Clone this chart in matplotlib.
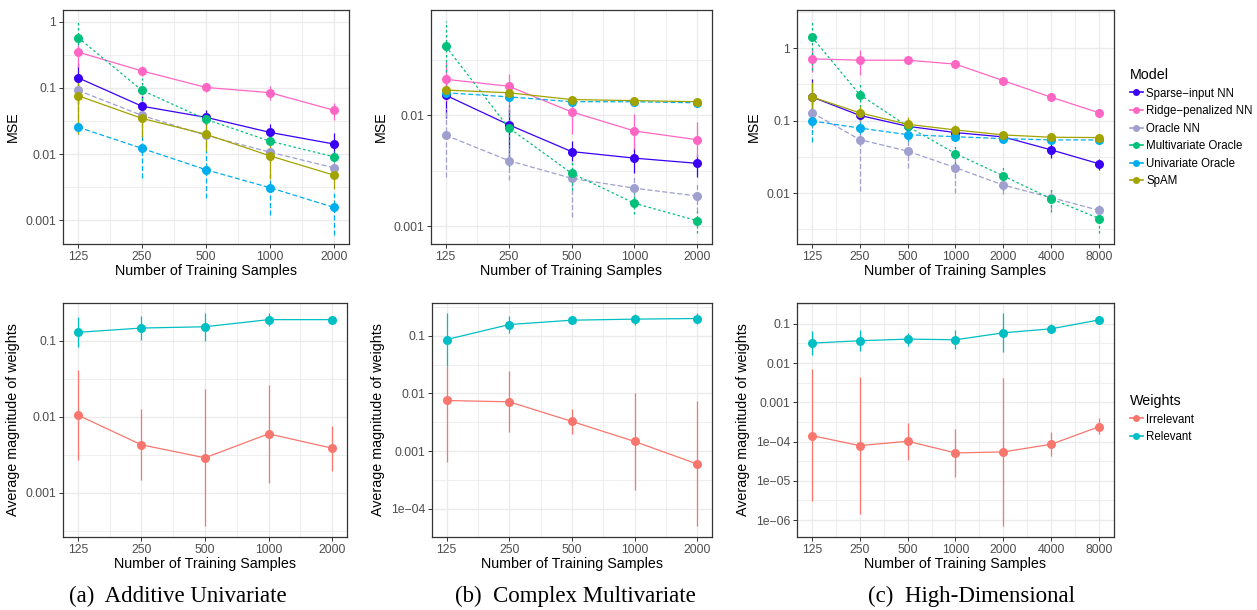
import numpy as np
import matplotlib
matplotlib.use('Agg')
import matplotlib.pyplot as plt
from matplotlib.lines import Line2D

plt.rcParams['font.family'] = ['Liberation Sans', 'DejaVu Sans']

# ---------------- data ----------------
n_small = [125, 250, 500, 1000, 2000]
n_large = [125, 250, 500, 1000, 2000, 4000, 8000]

models = ['Sparse\u2212input NN', 'Ridge\u2212penalized NN', 'Oracle NN',
          'Multivariate Oracle', 'Univariate Oracle', 'SpAM']

# (a) Additive Univariate: MSE mean, lower, upper
a_mse = [[0.143, 0.053, 0.036, 0.0213, 0.0142],
         [0.35, 0.181, 0.102, 0.085, 0.046],
         [0.092, 0.0385, 0.0192, 0.0107, 0.0062],
         [0.58, 0.092, 0.0335, 0.0157, 0.0091],
         [0.0256, 0.0122, 0.0058, 0.0031, 0.00156],
         [0.0765, 0.0347, 0.0199, 0.0094, 0.0048]]
a_lo = [[0.058, 0.0385, 0.0272, 0.0152, 0.0099],
        [0.208, 0.150, 0.087, 0.065, 0.0331],
        [0.0343, 0.0192, 0.0128, 0.0076, 0.00504],
        [0.37, 0.065, 0.0272, 0.0135, 0.0076],
        [0.0203, 0.00438, 0.0022, 0.00118, 0.0006],
        [0.0203, 0.0181, 0.0111, 0.00413, 0.00298]]
a_hi = [[0.234, 0.0748, 0.047, 0.0288, 0.0208],
        [0.47, 0.218, 0.119, 0.106, 0.0593],
        [0.131, 0.065, 0.0256, 0.0128, 0.0076],
        [1.04, 0.143, 0.047, 0.0181, 0.0111],
        [0.0343, 0.0203, 0.0114, 0.00504, 0.00256],
        [0.131, 0.0593, 0.0282, 0.0161, 0.00635]]

# (b) Complex Multivariate
b_mse = [[0.0151, 0.0082, 0.0047, 0.0041, 0.00368],
         [0.021, 0.0182, 0.0107, 0.0072, 0.0060],
         [0.0066, 0.0039, 0.0027, 0.0022, 0.00187],
         [0.0417, 0.0077, 0.0030, 0.00161, 0.00112],
         [0.0159, 0.0146, 0.0132, 0.0132, 0.0129],
         [0.0168, 0.0159, 0.0138, 0.0135, 0.0132]]
b_lo = [[0.0095, 0.0035, 0.0039, 0.0030, 0.0028],
        [0.0135, 0.0105, 0.0068, 0.0050, 0.0042],
        [0.0028, 0.0026, 0.0012, 0.00156, 0.00135],
        [0.022, 0.0034, 0.0021, 0.00129, 0.00087],
        [0.0145, 0.0133, 0.0125, 0.0123, 0.0122],
        [0.0153, 0.0145, 0.0131, 0.0127, 0.0126]]
b_hi = [[0.0195, 0.0117, 0.0058, 0.0052, 0.0045],
        [0.030, 0.0236, 0.0131, 0.0102, 0.0087],
        [0.0115, 0.0051, 0.0038, 0.0028, 0.0025],
        [0.070, 0.0135, 0.0039, 0.0020, 0.00138],
        [0.0172, 0.0158, 0.0139, 0.0140, 0.0135],
        [0.0183, 0.0172, 0.0146, 0.0145, 0.0138]]

# (c) High-Dimensional
c_mse = [[0.212, 0.118, 0.0835, 0.0684, 0.0596, 0.0395, 0.0254],
         [0.71, 0.68, 0.68, 0.60, 0.355, 0.21, 0.128],
         [0.129, 0.0548, 0.038, 0.0225, 0.0129, 0.0087, 0.0058],
         [1.42, 0.228, 0.0835, 0.0351, 0.0173, 0.00835, 0.00448],
         [0.099, 0.079, 0.064, 0.060, 0.0565, 0.0542, 0.0542],
         [0.212, 0.128, 0.089, 0.0744, 0.0635, 0.059, 0.0584]]
c_lo = [[0.085, 0.100, 0.072, 0.061, 0.054, 0.031, 0.021],
        [0.47, 0.42, 0.62, 0.53, 0.33, 0.195, 0.118],
        [0.080, 0.0107, 0.022, 0.0101, 0.0098, 0.0058, 0.0040],
        [0.50, 0.155, 0.070, 0.0250, 0.0110, 0.0055, 0.0028],
        [0.050, 0.065, 0.053, 0.053, 0.051, 0.050, 0.050],
        [0.085, 0.103, 0.075, 0.066, 0.058, 0.054, 0.054]]
c_hi = [[0.37, 0.15, 0.105, 0.075, 0.066, 0.048, 0.030],
        [0.97, 0.95, 0.74, 0.67, 0.38, 0.23, 0.138],
        [0.21, 0.15, 0.054, 0.038, 0.015, 0.0118, 0.0068],
        [2.35, 0.33, 0.112, 0.0455, 0.0235, 0.0115, 0.0068],
        [0.19, 0.095, 0.078, 0.068, 0.062, 0.059, 0.059],
        [0.34, 0.158, 0.112, 0.088, 0.070, 0.064, 0.063]]

weights = ['Irrelevant', 'Relevant']

# bottom row: average magnitude of weights (mean, lower, upper)
a_w = [[0.01057, 0.0043, 0.0029, 0.006, 0.00388],
       [0.13, 0.148, 0.154, 0.191, 0.191]]
a_w_lo = [[0.00275, 0.0015, 0.000363, 0.00137, 0.00197],
          [0.0825, 0.103, 0.101, 0.158, 0.183]]
a_w_hi = [[0.0419, 0.01256, 0.0235, 0.0266, 0.00766],
          [0.205, 0.216, 0.236, 0.232, 0.200]]

b_w = [[0.00756, 0.00717, 0.00327, 0.00147, 0.000596],
       [0.0863, 0.157, 0.187, 0.195, 0.200]]
b_w_lo = [[0.000635, 0.00216, 0.00202, 0.000208, 4.94e-5],
          [0.0298, 0.11, 0.159, 0.157, 0.163]]
b_w_hi = [[0.0298, 0.0244, 0.00535, 0.0104, 0.00736],
          [0.25, 0.222, 0.219, 0.244, 0.25]]

c_w = [[1.42e-4, 7.9e-5, 1.02e-4, 5.15e-5, 5.46e-5, 8.55e-5, 2.4e-4],
       [0.0322, 0.037, 0.0408, 0.0392, 0.059, 0.0746, 0.126]]
c_w_lo = [[3.04e-6, 1.42e-6, 3.35e-5, 1.27e-5, 7.0e-7, 4.33e-5, 1.53e-4],
          [0.0157, 0.0202, 0.028, 0.0223, 0.0187, 0.057, 0.115]]
c_w_hi = [[0.0069, 0.00432, 3.04e-4, 2.06e-4, 0.00416, 1.73e-4, 3.92e-4],
          [0.0664, 0.069, 0.059, 0.0677, 0.187, 0.098, 0.138]]

captions = ['(a)  Additive Univariate', '(b)  Complex Multivariate', '(c)  High-Dimensional']

# ---------------- styles ----------------
m_colors = ['#3a00f5', '#ff66c4', '#9f9fd0', '#00c07a', '#00aeef', '#a3a300']
m_dash = [None, None, (4, 2), (2, 2), (4, 2), None]
w_colors = ['#f8766d', '#00bfc4']

fig = plt.figure(figsize=(12.57, 6.10), dpi=100)

def px_axes(x0, x1, y0, y1):
    return fig.add_axes([x0 / 1257, 1 - y1 / 610, (x1 - x0) / 1257, (y1 - y0) / 610])

def style_axes(ax, xs, ylim, yticks, ylabels, ylabel, xpad):
    ax.set_xscale('log', base=2)
    ax.set_yscale('log')
    lx = np.log2(xs[0]) - xpad
    rx = np.log2(xs[-1]) + xpad
    ax.set_xlim(2 ** lx, 2 ** rx)
    ax.set_xticks(xs)
    ax.set_xticklabels([str(v) for v in xs])
    ax.set_xticks([x * np.sqrt(2) for x in xs[:-1]], minor=True)
    ax.set_yticks(yticks)
    ax.set_yticklabels(ylabels)
    lo = np.floor(np.log10(ylim[0]))
    hi = np.ceil(np.log10(ylim[1]))
    ax.set_yticks(10 ** (np.arange(lo, hi) + 0.5), minor=True)
    ax.set_ylim(*ylim)
    ax.xaxis.set_minor_formatter(plt.NullFormatter())
    ax.yaxis.set_minor_formatter(plt.NullFormatter())
    ax.grid(True, which='major', color='#ebebeb', lw=1.0)
    ax.grid(True, which='minor', color='#ebebeb', lw=0.6)
    ax.set_axisbelow(True)
    for s in ax.spines.values():
        s.set_color('#333333')
        s.set_linewidth(0.9)
    ax.tick_params(which='major', length=3, width=0.7, color='#333333',
                   labelsize=8.8, labelcolor='#4d4d4d', pad=2)
    ax.tick_params(which='minor', length=0)
    ax.set_xlabel('Number of Training Samples', fontsize=10.3, labelpad=1)
    ax.set_ylabel(ylabel, fontsize=10.3, labelpad=4)

def draw(ax, xs, means, los, his, colors, dashes):
    for m, lo, hi, col, d in zip(means, los, his, colors, dashes):
        m = np.array(m)
        yerr = [m - np.array(lo), np.array(hi) - m]
        eb = ax.errorbar(xs, m, yerr=yerr, color=col, lw=0.9, elinewidth=0.9,
                         capsize=2, capthick=0.9, marker='o', ms=6.5, mew=0)
        if d is not None:
            eb[0].set_dashes(d)
            for c in eb[2]:
                c.set_linestyle((0, d))

# top row
ax = px_axes(63, 349, 10, 244)
draw(ax, n_small, a_mse, a_lo, a_hi, m_colors, m_dash)
style_axes(ax, n_small, (10 ** -3.36, 10 ** 0.18), [0.001, 0.01, 0.1, 1],
           ['0.001', '0.01', '0.1', '1'], 'MSE', 0.234)

ax = px_axes(431, 712, 10, 244)
draw(ax, n_small, b_mse, b_lo, b_hi, m_colors, m_dash)
style_axes(ax, n_small, (10 ** -3.16, 10 ** -1.054), [0.001, 0.01],
           ['0.001', '0.01'], 'MSE', 0.234)

ax = px_axes(797, 1114, 10, 244)
draw(ax, n_large, c_mse, c_lo, c_hi, m_colors, m_dash)
style_axes(ax, n_large, (10 ** -2.70, 10 ** 0.524), [0.01, 0.1, 1],
           ['0.01', '0.1', '1'], 'MSE', 0.31)

# bottom row
ylab = 'Average magnitude of weights'
ax = px_axes(63, 347, 303, 537)
draw(ax, n_small, a_w, a_w_lo, a_w_hi, w_colors, [None, None])
style_axes(ax, n_small, (10 ** -3.58, 10 ** -0.5), [0.001, 0.01, 0.1],
           ['0.001', '0.01', '0.1'], ylab, 0.234)

ax = px_axes(432, 712, 303, 537)
draw(ax, n_small, b_w, b_w_lo, b_w_hi, w_colors, [None, None])
style_axes(ax, n_small, (10 ** -4.49, 10 ** -0.43), [1e-4, 0.001, 0.01, 0.1],
           ['1e\u221204', '0.001', '0.01', '0.1'], ylab, 0.234)

ax = px_axes(797, 1114, 303, 537)
draw(ax, n_large, c_w, c_w_lo, c_w_hi, w_colors, [None, None])
style_axes(ax, n_large, (10 ** -6.43, 10 ** -0.47), [1e-6, 1e-5, 1e-4, 0.001, 0.01, 0.1],
           ['1e\u221206', '1e\u221205', '1e\u221204', '0.001', '0.01', '0.1'], ylab, 0.31)

# legends
leg_kw = dict(loc='upper left', frameon=False, fontsize=8.3, title_fontsize=10.3,
              handlelength=1.1, handletextpad=0.3, labelspacing=0.48,
              alignment='left', borderpad=0, borderaxespad=0)
h1 = [Line2D([], [], color=c, lw=1.2, marker='o', ms=5, mew=0) for c in m_colors]
fig.legend(h1, models, title='Model',
           bbox_to_anchor=(1130 / 1257, 1 - 68 / 610), **leg_kw)
h2 = [Line2D([], [], color=c, lw=1.2, marker='o', ms=5, mew=0) for c in w_colors]
fig.legend(h2, weights, title='Weights',
           bbox_to_anchor=(1130 / 1257, 1 - 394 / 610), **leg_kw)

# captions
for xc, txt in zip([178, 575, 971], captions):
    fig.text(xc / 1257, 1 - 596 / 610, txt, ha='center', va='center',
             fontsize=16.5, family=['Liberation Serif', 'DejaVu Serif'])

plt.savefig('out.png', dpi=100)
